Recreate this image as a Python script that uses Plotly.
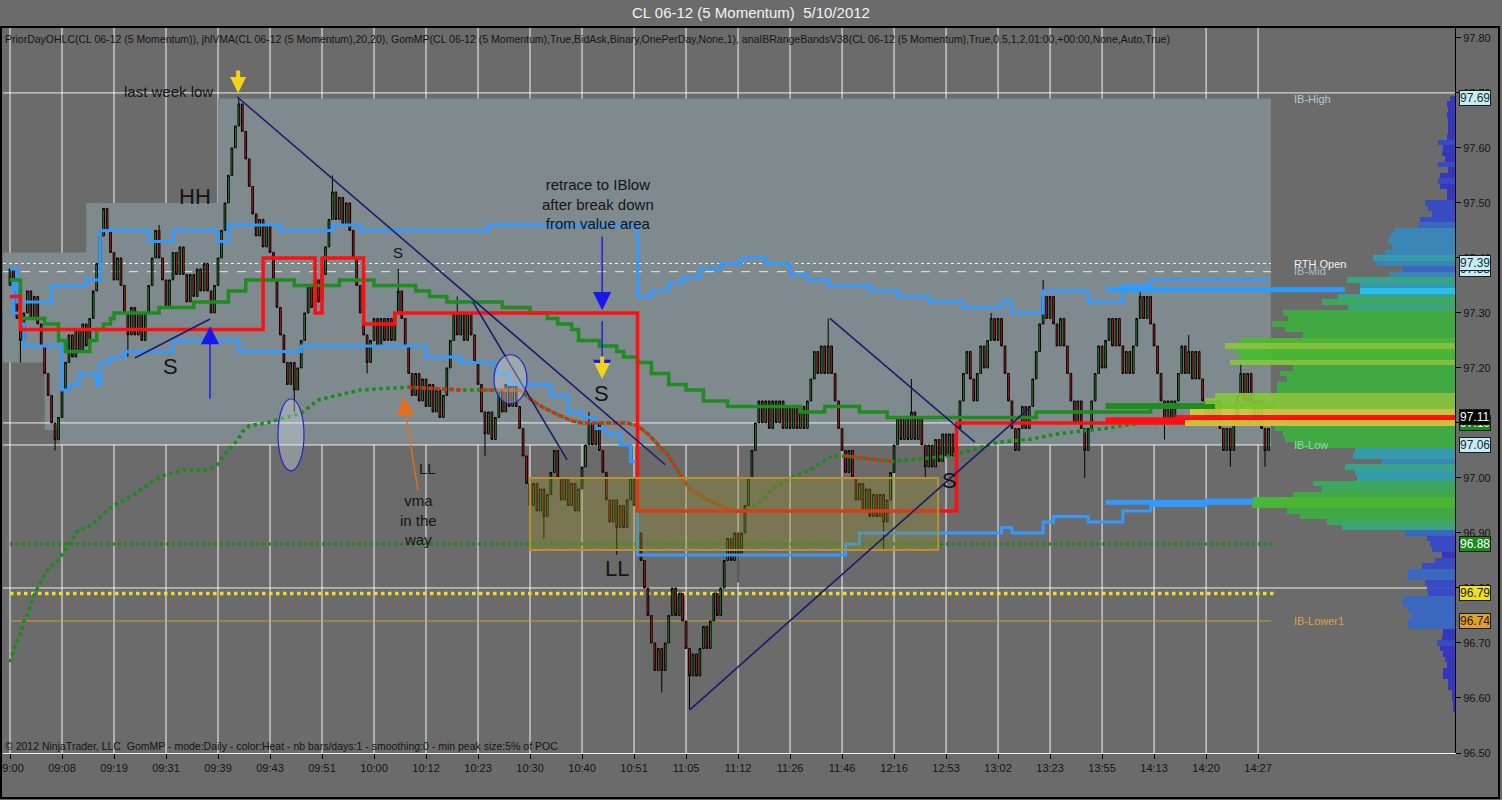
import plotly.graph_objects as go

# ---- data ----
time_labels = ["09:00", "09:08", "09:19", "09:31", "09:39", "09:43", "09:51", "10:00", "10:12",
               "10:23", "10:30", "10:40", "10:51", "11:05", "11:12", "11:26", "11:46", "12:16",
               "12:53", "13:02", "13:23", "13:55", "14:13", "14:20", "14:27"]
bars_per_label = 15

first_open = 97.35
closes = [
    97.38, 97.34, 97.29, 97.25, 97.30, 97.34, 97.29, 97.33, 97.28, 97.24, 97.19, 97.15, 97.10, 97.07, 97.11,
    97.16, 97.21, 97.26, 97.22, 97.27, 97.23, 97.28, 97.24, 97.29, 97.34, 97.39, 97.44, 97.49, 97.45, 97.41,
    97.36, 97.40, 97.35, 97.30, 97.26, 97.31, 97.26, 97.30, 97.25, 97.30, 97.35, 97.40, 97.45, 97.40, 97.36,
    97.31, 97.36, 97.41, 97.37, 97.42, 97.37, 97.32, 97.37, 97.33, 97.38, 97.34, 97.39, 97.34, 97.30, 97.35,
    97.40, 97.45, 97.50, 97.55, 97.60, 97.64, 97.68, 97.63, 97.58, 97.53, 97.48, 97.44, 97.47, 97.42, 97.46,
    97.41, 97.36, 97.31, 97.26, 97.21, 97.17, 97.21, 97.16, 97.20, 97.25, 97.30, 97.35, 97.31, 97.36, 97.32,
    97.37, 97.42, 97.47, 97.52, 97.47, 97.51, 97.46, 97.50, 97.45, 97.40, 97.35, 97.30, 97.26, 97.21, 97.25,
    97.29, 97.24, 97.29, 97.25, 97.29, 97.25, 97.30, 97.34, 97.29, 97.24, 97.19, 97.15, 97.19, 97.14, 97.18,
    97.13, 97.17, 97.12, 97.16, 97.11, 97.15, 97.20, 97.25, 97.30, 97.26, 97.30, 97.25, 97.30, 97.26, 97.21,
    97.17, 97.12, 97.08, 97.12, 97.07, 97.11, 97.16, 97.12, 97.17, 97.13, 97.17, 97.13, 97.09, 97.04, 96.99,
    96.95, 96.99, 96.94, 96.98, 96.93, 96.97, 97.01, 97.05, 97.00, 96.96, 97.00, 96.95, 96.99, 96.94, 96.98,
    97.02, 97.06, 97.10, 97.06, 97.10, 97.05, 97.01, 96.96, 96.92, 96.96, 96.91, 96.95, 96.91, 96.96, 97.00,
    96.95, 96.90, 96.85, 96.80, 96.75, 96.70, 96.65, 96.69, 96.65, 96.70, 96.75, 96.80, 96.75, 96.79, 96.74,
    96.69, 96.64, 96.68, 96.64, 96.69, 96.73, 96.69, 96.74, 96.79, 96.75, 96.80, 96.85, 96.89, 96.85, 96.90,
    96.86, 96.90, 96.95, 97.00, 97.05, 97.10, 97.14, 97.10, 97.14, 97.09, 97.14, 97.10, 97.14, 97.09, 97.13,
    97.09, 97.13, 97.09, 97.13, 97.09, 97.14, 97.18, 97.23, 97.19, 97.24, 97.19, 97.24, 97.19, 97.14, 97.09,
    97.05, 97.01, 97.05, 97.00, 96.96, 96.99, 96.94, 96.98, 96.93, 96.97, 96.93, 96.97, 96.92, 96.96, 97.01,
    97.06, 97.11, 97.07, 97.11, 97.07, 97.12, 97.07, 97.11, 97.06, 97.02, 97.06, 97.02, 97.07, 97.03, 97.08,
    97.04, 97.08, 97.04, 97.09, 97.14, 97.19, 97.23, 97.18, 97.14, 97.19, 97.24, 97.20, 97.25, 97.29, 97.25,
    97.29, 97.24, 97.19, 97.14, 97.09, 97.05, 97.09, 97.13, 97.09, 97.13, 97.18, 97.23, 97.28, 97.33, 97.29,
    97.33, 97.28, 97.24, 97.29, 97.24, 97.19, 97.14, 97.10, 97.14, 97.09, 97.05, 97.09, 97.14, 97.19, 97.24,
    97.20, 97.25, 97.29, 97.24, 97.29, 97.24, 97.19, 97.23, 97.19, 97.24, 97.29, 97.33, 97.29, 97.33, 97.28,
    97.24, 97.19, 97.14, 97.10, 97.14, 97.10, 97.14, 97.19, 97.24, 97.19, 97.23, 97.18, 97.23, 97.18, 97.14,
    97.10, 97.14, 97.10, 97.14, 97.09, 97.05, 97.09, 97.05, 97.10, 97.15, 97.19, 97.14, 97.19, 97.14, 97.10,
    97.14, 97.09, 97.05, 97.09,
]
# wicks sticking out past the body
wick_high = {43: 97.46, 66: 97.69, 93: 97.55, 112: 97.38, 129: 97.33, 167: 97.12, 236: 97.29,
             260: 97.18, 283: 97.30, 298: 97.36, 326: 97.34, 340: 97.26, 355: 97.21}
wick_low = {3: 97.21, 13: 97.05, 34: 97.22, 82: 97.12, 103: 97.19, 137: 97.04, 154: 96.89,
            175: 96.86, 188: 96.61, 196: 96.58, 210: 96.81, 252: 96.87, 264: 97.00, 310: 97.00,
            333: 97.07, 352: 97.02, 362: 97.02}

# range bands (step lines)
upper_bars = [0, 2, 12, 22, 26, 40, 47, 60, 63, 78, 93, 101, 138, 181, 185, 190, 194, 199, 205, 211,
              218, 225, 230, 236, 248, 256, 265, 275, 286, 289, 298, 311, 321, 329, 363]
upper_vals = [97.38, 97.32, 97.35, 97.36, 97.45, 97.43, 97.45, 97.43, 97.46, 97.45, 97.46, 97.45, 97.46,
              97.33, 97.34, 97.355, 97.365, 97.38, 97.39, 97.40, 97.39, 97.37, 97.36, 97.35, 97.34, 97.33,
              97.32, 97.31, 97.32, 97.30, 97.34, 97.32, 97.35, 97.36, 97.36]
lower_bars = [0, 1, 3, 4, 15, 17, 20, 25, 26, 29, 33, 47, 66, 84, 120, 130, 140, 144, 156, 161, 165,
              169, 172, 176, 179, 181, 241, 245, 286, 289, 298, 301, 311, 321, 329, 345, 363]
lower_vals = [97.36, 97.30, 97.28, 97.24, 97.16, 97.17, 97.19, 97.17, 97.21, 97.22, 97.23, 97.25, 97.23,
              97.24, 97.22, 97.21, 97.19, 97.17, 97.15, 97.12, 97.11, 97.09, 97.08, 97.06, 97.03, 96.86,
              96.88, 96.90, 96.91, 96.90, 96.92, 96.93, 96.92, 96.94, 96.95, 96.96, 96.96]

# developing POC (red steps)
poc_bars = [0, 3, 73, 88, 90, 102, 111, 181, 273, 363]
poc_vals = [97.33, 97.27, 97.40, 97.30, 97.40, 97.28, 97.30, 96.94, 97.10, 97.10]

# green step line
step_bars = [0, 3, 10, 14, 16, 23, 25, 27, 29, 30, 43, 53, 63, 68, 82, 95, 105, 117, 121, 126, 142,
             150, 155, 158, 162, 164, 170, 175, 177, 181, 185, 190, 195, 200, 207, 228, 235, 245,
             253, 296, 329, 363]
step_vals = [97.36, 97.29, 97.28, 97.25, 97.23, 97.25, 97.27, 97.28, 97.29, 97.30, 97.31, 97.32, 97.34,
             97.36, 97.35, 97.36, 97.35, 97.34, 97.33, 97.32, 97.31, 97.30, 97.29, 97.28, 97.27, 97.25,
             97.24, 97.23, 97.22, 97.21, 97.19, 97.17, 97.16, 97.14, 97.13, 97.12, 97.13, 97.12, 97.11,
             97.12, 97.13, 97.13]

# VMA (dotted), red where falling
vma_bars = [0, 1, 3, 4, 5, 6, 7, 8, 10, 12, 14, 16, 19, 20, 22, 25, 26, 28, 30, 34, 36, 38, 41, 44,
            47, 50, 57, 60, 61, 64, 66, 67, 69, 74, 84, 89, 101, 115, 130, 136, 147, 150, 153, 158,
            162, 165, 178, 181, 184, 187, 190, 193, 196, 199, 201, 205, 208, 211, 215, 220, 225, 231,
            237, 241, 254, 263, 271, 277, 285, 294, 302, 309, 316, 326, 331, 363]
vma_vals = [96.665, 96.687, 96.715, 96.74, 96.751, 96.771, 96.788, 96.80, 96.825, 96.84, 96.852,
            96.87, 96.90, 96.907, 96.909, 96.922, 96.929, 96.942, 96.95, 96.963, 96.971, 96.98, 96.993,
            97.004, 97.009, 97.015, 97.015, 97.025, 97.036, 97.058, 97.072, 97.084, 97.095, 97.10,
            97.118, 97.142, 97.16, 97.165, 97.16, 97.16, 97.16, 97.144, 97.131, 97.115, 97.104, 97.10,
            97.10, 97.095, 97.08, 97.06, 97.04, 97.01, 96.98, 96.97, 96.96, 96.95, 96.94, 96.94, 96.95,
            96.98, 97.00, 97.015, 97.04, 97.04, 97.03, 97.035, 97.04, 97.05, 97.065, 97.07, 97.08,
            97.085, 97.09, 97.10, 97.10, 97.105]
vma_falling = [(115, 130), (136, 211), (241, 254), (307, 310)]

# initial balance area (developing then fixed)
ib_bars = [-2.02, 10, 14.4, 22, 60, 363.7]
ib_top = [97.41, 97.41, 97.41, 97.50, 97.69, 97.69]
ib_bot = [97.21, 97.087, 97.06, 97.06, 97.06, 97.06]

# volume profile (price -> size)
profile_prices = [round(96.58 + 0.01 * i, 2) for i in range(112)]
profile_sizes = [2, 2, 3, 3, 7, 7, 12, 12, 8, 10, 12, 15, 18, 13, 12, 47, 47, 43, 47, 52, 52, 27, 28,
                 30, 48, 47, 33, 20, 13, 23, 25, 28, 50, 113, 128, 155, 168, 203, 202, 162, 133, 142,
                 98, 100, 110, 73, 102, 100, 160, 170, 172, 180, 270, 280, 265, 240, 250, 240, 178, 178,
                 168, 175, 162, 225, 215, 220, 230, 215, 152, 170, 183, 167, 172, 107, 133, 117, 95, 95,
                 108, 65, 52, 78, 82, 70, 63, 67, 65, 60, 37, 35, 23, 27, 30, 8, 8, 15, 17, 15, 7, 17,
                 10, 13, 12, 17, 8, 7, 7, 7, 8, 7, 8, 5]
poc_price = 97.11

# horizontal reference levels
level_prices = [97.70, 97.39, 97.375, 97.10, 97.06, 96.88, 96.80, 96.79, 96.74]

# drawings
trend_lines = [(65.5, 97.693, 189.0, 97.024), (133.5, 97.32, 160.7, 97.033),
               (36.0, 97.218, 57.7, 97.289), (236.5, 97.29, 278.3, 97.065),
               (196.0, 96.578, 294.0, 97.127)]
ellipses = [(77.3, 97.013, 84.8, 97.144), (139.6, 97.135, 149.1, 97.224)]
value_box = (150, 96.869, 267.7, 97.0)

notes = [("last week low", 45.6, 97.702, 15), ("HH", 53.4, 97.511, 22), ("S", 46.2, 97.202, 22),
         ("S", 111.9, 97.409, 15), ("LL", 120.3, 97.018, 15), ("vma<br>in the<br>way", 117.7, 96.924, 15),
         ("retrace to IBlow<br>after break down<br>from value area", 169.6, 97.498, 15),
         ("S", 170.5, 97.153, 22), ("LL", 175.1, 96.836, 22), ("S", 271.1, 96.996, 22)]
level_names = [("IB-High", 97.689, "#b4cad6"), ("RTH Open", 97.389, "#f2f2f2"), ("IB-Mid", 97.377, "#a8bccb"),
               ("IB-Low", 97.06, "#94d6b4"), ("IB-Lower1", 96.74, "#dca044")]
price_tags = [("97.69", "#c8ecf2", "#10303a"), ("97.38", "#c8ecf2", "#10303a"), ("97.39", "#c8ecf2", "#10303a"),
              ("97.10", "#1a8a1a", "#ffffff"), ("97.11", "#000000", "#ffffff"), ("97.06", "#c8ecf2", "#10303a"),
              ("96.88", "#1a8a1a", "#ffffff"), ("96.79", "#f0e020", "#202020"), ("96.74", "#e0a030", "#202020")]

# ---- build ----
FONT = "Liberation Sans, Arial, sans-serif"
BG = "#6b6b6b"
X_LO, X_HI = -2.02, 416.8
Y_LO, Y_HI = 96.50, 97.818

n = len(closes)
idx = list(range(n))
opens = [first_open] + closes[:-1]
highs = [max(o, c, wick_high.get(i, 0)) for i, (o, c) in enumerate(zip(opens, closes))]
lows = [min(o, c, wick_low.get(i, 99)) for i, (o, c) in enumerate(zip(opens, closes))]

fig = go.Figure()

# IB area as a background shape (beneath the candles)
path = "M %f,%f" % (ib_bars[0], ib_bot[0])
for i in range(1, len(ib_bars)):
    path += " H %f V %f" % (ib_bars[i], ib_bot[i])
path += " V %f" % ib_top[-1]
for i in range(len(ib_bars) - 2, -1, -1):
    path += " H %f V %f" % (ib_bars[i + 1], ib_top[i])
path += " H %f Z" % ib_bars[0]
fig.add_shape(type="path", path=path, xref="x", yref="y", layer="below",
              fillcolor="#7f8a8e", line=dict(width=0))

# vertical grid, drawn over the IB area
for k in range(len(time_labels)):
    fig.add_shape(type="line", xref="x", yref="paper", x0=k * bars_per_label, x1=k * bars_per_label,
                  y0=0, y1=1, layer="below", line=dict(color="#f4f4f4", width=1))

# reference levels
lvl_style = [
    (X_LO, X_HI, "#f0f0f0", "solid", 1),
    (X_LO, 363.7, "#f0f0f0", "dot", 1),
    (X_LO, 363.7, "#e8e8e8", "dash", 1),
    (X_LO, 363.7, "#f0f0f0", "solid", 1),
    (X_LO, 363.7, "#f0f0f0", "solid", 1),
    (0, 365, "#1c8a1c", "dot", 3),
    (X_LO, X_HI, "#f0f0f0", "solid", 1),
    (0, 365, "#f2e020", "dot", 3.5),
    (0, 363.7, "#d4a030", "solid", 1),
]
for p, (xs, xe, col, dash, w) in zip(level_prices, lvl_style):
    fig.add_shape(type="line", xref="x", yref="y", x0=xs, x1=xe, y0=p, y1=p, layer="below",
                  line=dict(color=col, dash=dash, width=w))

fig.add_shape(type="rect", x0=value_box[0], y0=value_box[1], x1=value_box[2], y1=value_box[3],
              fillcolor="rgba(150,140,40,0.35)", line=dict(color="#b8902c", width=2))

# bands
fig.add_trace(go.Scatter(x=upper_bars, y=upper_vals, mode="lines", line=dict(color="#3399ff", width=3, shape="hv"),
                         hoverinfo="skip", showlegend=False))
fig.add_trace(go.Scatter(x=lower_bars, y=lower_vals, mode="lines", line=dict(color="#3399ff", width=3, shape="hv"),
                         hoverinfo="skip", showlegend=False))
fig.add_trace(go.Scatter(x=[316, 385], y=[97.342, 97.342], mode="lines", line=dict(color="#2a9cff", width=5),
                         hoverinfo="skip", showlegend=False))
fig.add_trace(go.Scatter(x=[316, 365], y=[96.956, 96.956], mode="lines", line=dict(color="#3399ff", width=5),
                         hoverinfo="skip", showlegend=False))

# green step and VMA
fig.add_trace(go.Scatter(x=step_bars, y=step_vals, mode="lines", line=dict(color="#1e8c1e", width=3.5, shape="hv"),
                         hoverinfo="skip", showlegend=False))
fig.add_trace(go.Scatter(x=[316, 365], y=[97.131, 97.131], mode="lines", line=dict(color="#1e8c1e", width=6),
                         hoverinfo="skip", showlegend=False))
fig.add_trace(go.Scatter(x=vma_bars, y=vma_vals, mode="lines", line=dict(color="#1a8c1a", width=3.5, dash="dot"),
                         hoverinfo="skip", showlegend=False))
rx, ry = [], []
for a, b in vma_falling:
    for bx, bv in zip(vma_bars, vma_vals):
        if a <= bx <= b:
            rx.append(bx)
            ry.append(bv)
    rx.append(None)
    ry.append(None)
fig.add_trace(go.Scatter(x=rx, y=ry, mode="lines", line=dict(color="#ff1a1a", width=3.5, dash="dot"),
                         hoverinfo="skip", showlegend=False, connectgaps=False))

# POC steps
fig.add_trace(go.Scatter(x=poc_bars, y=poc_vals, mode="lines", line=dict(color="#ff1010", width=3.5, shape="hv"),
                         hoverinfo="skip", showlegend=False))
fig.add_trace(go.Scatter(x=[316, X_HI], y=[97.105, 97.105], mode="lines", line=dict(color="#ff1010", width=6),
                         hoverinfo="skip", showlegend=False))

# candles
fig.add_trace(go.Candlestick(
    x=idx, open=opens, high=highs, low=lows, close=closes,
    increasing=dict(line=dict(color="#000000", width=1), fillcolor="#2e9a2e"),
    decreasing=dict(line=dict(color="#000000", width=1), fillcolor="#dd1a1a"),
    whiskerwidth=0, hoverinfo="skip", showlegend=False))


def heat(v):
    steps = [(15, "#3232c8"), (35, "#3448cc"), (55, "#3468c8"), (80, "#3888c0"), (105, "#30a0b0"),
             (125, "#34aa88"), (150, "#3aae5c"), (185, "#3cb040"), (220, "#48bc30"), (255, "#88c838")]
    for lim, col in steps:
        if v <= lim:
            return col
    return "#d0cc40"


prof_cols = []
for p, v in zip(profile_prices, profile_sizes):
    if abs(p - poc_price) < 1e-6:
        prof_cols.append("#ff1010")
    elif abs(p - 97.34) < 1e-6:
        prof_cols.append("#20c8ff")
    else:
        prof_cols.append(heat(v))
fig.add_trace(go.Bar(x=profile_sizes, y=profile_prices, orientation="h", xaxis="x2", yaxis="y",
                     width=0.0098, marker=dict(color=prof_cols, line=dict(width=0)), opacity=0.9,
                     hoverinfo="skip", showlegend=False))

# drawings
for x0, y0, x1, y1 in trend_lines:
    fig.add_shape(type="line", x0=x0, y0=y0, x1=x1, y1=y1, line=dict(color="#1c1c6e", width=1.6))
for x0, y0, x1, y1 in ellipses:
    fig.add_shape(type="circle", x0=x0, y0=y0, x1=x1, y1=y1, fillcolor="rgba(215,225,235,0.35)",
                  line=dict(color="#2626c8", width=1.2))

# arrows
arrow_specs = [
    dict(x=57.7, y=97.276, ax=0, ay=74, arrowcolor="#1818ee", arrowwidth=1.4, arrowsize=2.6, arrowhead=2),
    dict(x=170.8, y=97.305, ax=0, ay=-75, arrowcolor="#1818ee", arrowwidth=1.4, arrowsize=2.6, arrowhead=2),
    dict(x=170.8, y=97.182, ax=0, ay=-58, arrowcolor="#1818ee", arrowwidth=1.4, arrowsize=2.6, arrowhead=2),
    dict(x=113.4, y=97.147, ax=15, ay=95, arrowcolor="#e07020", arrowwidth=1.4, arrowsize=2.6, arrowhead=2),
    dict(x=65.8, y=97.70, ax=0, ay=-24, arrowcolor="#f2d21a", arrowwidth=4, arrowsize=0.8, arrowhead=2),
    dict(x=170.8, y=97.18, ax=0, ay=-24, arrowcolor="#f2d21a", arrowwidth=4, arrowsize=0.8, arrowhead=2),
]
for a in arrow_specs:
    fig.add_annotation(text="", showarrow=True, xref="x", yref="y", axref="pixel", ayref="pixel", **a)

for txt, bx, py, sz in notes:
    fig.add_annotation(text=txt, x=bx, y=py, xref="x", yref="y", showarrow=False,
                       font=dict(family=FONT, size=sz, color="#141414"), align="center")
for txt, py, col in level_names:
    fig.add_annotation(text=txt, x=369.8, y=py, xref="x", yref="y", showarrow=False, xanchor="left",
                       font=dict(family=FONT, size=11, color=col))
for txt, bg, fg in price_tags:
    fig.add_annotation(text=txt, x=1, y=float(txt), xref="paper", yref="y", showarrow=False, xanchor="left",
                       xshift=4, bgcolor=bg, bordercolor="#1a1a1a", borderwidth=1, borderpad=0,
                       font=dict(family=FONT, size=12, color=fg))

# header / footer / title
fig.add_annotation(text="PriorDayOHLC(CL 06-12 (5 Momentum)), jhlVMA(CL 06-12 (5 Momentum),20,20), "
                        "GomMP(CL 06-12 (5 Momentum),True,BidAsk,Binary,OnePerDay,None,1), "
                        "anaIBRangeBandsV38(CL 06-12 (5 Momentum),True,0.5,1,2,01:00,+00:00,None,Auto,True)",
                   x=0.0, y=0.985, xref="paper", yref="paper", xanchor="left", yanchor="middle", showarrow=False,
                   font=dict(family=FONT, size=10.5, color="#141414"))
fig.add_annotation(text="© 2012 NinjaTrader, LLC  GomMP - mode:Daily - color:Heat - nb bars/days:1 - "
                        "smoothing:0 - min peak size:5% of POC",
                   x=0.0, y=0.0097, xref="paper", yref="paper", xanchor="left", yanchor="middle", showarrow=False,
                   font=dict(family=FONT, size=10.5, color="#141414"))
fig.add_annotation(text="CL 06-12 (5 Momentum)  5/10/2012", x=0.515, y=1.0207, xref="paper", yref="paper",
                   xanchor="center", yanchor="middle", showarrow=False,
                   font=dict(family=FONT, size=15, color="#f4f4f4"))

# frame lines
W, H = 1452.0, 725.0
for x0, y0, x1, y1 in [(0, 27, 1500, 27), (1499, 27, 1499, 798), (0, 798, 1500, 798), (1, 27, 1, 798)]:
    fig.add_shape(type="line", xref="paper", yref="paper", x0=(x0 - 3) / W, x1=(x1 - 3) / W,
                  y0=(753 - y0) / H, y1=(753 - y1) / H, line=dict(color="#000000", width=2))

fig.update_layout(
    width=1502, height=800,
    margin=dict(l=3, r=47, t=28, b=47, autoexpand=False),
    paper_bgcolor=BG, plot_bgcolor=BG,
    showlegend=False,
    font=dict(family=FONT, size=11, color="#141414"),
    xaxis=dict(range=[X_LO, X_HI], tickvals=[k * bars_per_label for k in range(len(time_labels))],
               ticktext=time_labels, showgrid=False, zeroline=False, ticks="outside", ticklen=5,
               tickcolor="#000000", showline=True, linecolor="#f0f0f0", linewidth=1,
               ticklabeloverflow="allow", automargin=False,
               rangeslider=dict(visible=False), tickfont=dict(family=FONT, size=11, color="#141414")),
    xaxis2=dict(range=[W, 0], overlaying="x", visible=False),
    yaxis=dict(range=[Y_LO, Y_HI], side="right", dtick=0.1, tick0=96.5, tickformat=".2f",
               showgrid=False, zeroline=False, ticks="outside", ticklen=5, tickcolor="#000000",
               showline=True, linecolor="#000000", linewidth=1, automargin=False,
               tickfont=dict(family=FONT, size=11, color="#141414")),
    bargap=0,
)

fig.write_html("out.html", config={"displayModeBar": False},
               post_script="document.body.style.margin='0px';")
